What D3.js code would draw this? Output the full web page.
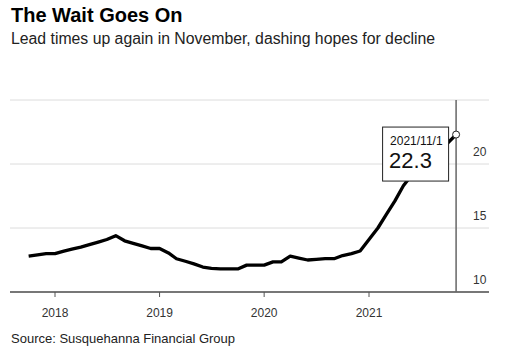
<!DOCTYPE html>
<html>
<head>
<meta charset="utf-8">
<script src="https://cdn.jsdelivr.net/npm/d3@7"></script>
<style>
  body { margin: 0; background: #fff; }
  svg { display: block; font-family: 'Liberation Sans', Arial, Helvetica, sans-serif; }
</style>
</head>
<body>
<div id="chart"></div>
<script>
// data (monthly lead times, weeks)
const months = [
  '2017-10', '2017-11', '2017-12',
  '2018-01', '2018-02', '2018-03', '2018-04', '2018-05', '2018-06', '2018-07', '2018-08', '2018-09', '2018-10', '2018-11', '2018-12',
  '2019-01', '2019-02', '2019-03', '2019-04', '2019-05', '2019-06', '2019-07', '2019-08', '2019-09', '2019-10', '2019-11', '2019-12',
  '2020-01', '2020-02', '2020-03', '2020-04', '2020-05', '2020-06', '2020-07', '2020-08', '2020-09', '2020-10', '2020-11', '2020-12',
  '2021-01', '2021-02', '2021-03', '2021-04', '2021-05', '2021-06', '2021-07', '2021-08', '2021-09', '2021-10', '2021-11',
]
const leadTimes = [
  12.8, 12.9, 13.0,
  13.0, 13.2, 13.35, 13.5, 13.7, 13.9, 14.1, 14.4, 14.0, 13.8, 13.6, 13.4,
  13.4, 13.05, 12.6, 12.4, 12.2, 11.95, 11.85, 11.8, 11.8, 11.8, 12.1, 12.1,
  12.1, 12.35, 12.35, 12.8, 12.65, 12.5, 12.55, 12.6, 12.6, 12.85, 13.0, 13.2,
  14.1, 15.0, 16.0, 17.1, 18.3, 19.2, 20.0, 20.6, 21.1, 21.6, 22.3,
]
const yearTicks = ['2018', '2019', '2020', '2021']
const valueTicks = [10, 15, 20]
const gridValues = [15, 20, 25]

const parseMonth = d3.timeParse('%Y-%m')
const data = months.map((m, i) => ({ date: parseMonth(m), value: leadTimes[i] }))
const last = data[data.length - 1]

// size
const W = 505
const H = 351
const plotLeft = 10
const plotRight = 489

// scale
const x = d3
  .scaleTime()
  .domain([new Date(2018, 0, 1), new Date(2021, 0, 1)])
  .range([55, 369])
const y = d3.scaleLinear().domain([10, 25]).range([292, 100])

const svg = d3
  .select('#chart')
  .append('svg')
  .attr('width', W)
  .attr('height', H)

// title + subtitle
svg
  .append('text')
  .attr('x', 11)
  .attr('y', 22)
  .attr('font-size', '20px')
  .attr('font-weight', 'bold')
  .attr('fill', '#000')
  .text('The Wait Goes On')

svg
  .append('text')
  .attr('x', 11)
  .attr('y', 44)
  .attr('font-size', '15.8px')
  .attr('fill', '#222')
  .text('Lead times up again in November, dashing hopes for decline')

// gridlines
svg
  .selectAll('line.grid')
  .data(gridValues)
  .join('line')
  .attr('class', 'grid')
  .attr('x1', plotLeft)
  .attr('x2', plotRight)
  .attr('y1', d => y(d))
  .attr('y2', d => y(d))
  .attr('stroke', '#dcdcdc')
  .attr('stroke-width', 1)

// y labels (sit above their gridline)
svg
  .selectAll('text.ylab')
  .data(valueTicks)
  .join('text')
  .attr('class', 'ylab')
  .attr('x', 473)
  .attr('y', d => y(d) - 8)
  .attr('font-size', '12px')
  .attr('fill', '#333')
  .text(d => d)

// x-axis
svg
  .append('line')
  .attr('x1', plotLeft)
  .attr('x2', plotRight)
  .attr('y1', y(10))
  .attr('y2', y(10))
  .attr('stroke', '#777')
  .attr('stroke-width', 2)

const yearDates = yearTicks.map(d => d3.timeParse('%Y')(d))
svg
  .selectAll('line.tick')
  .data(yearDates)
  .join('line')
  .attr('class', 'tick')
  .attr('x1', d => x(d))
  .attr('x2', d => x(d))
  .attr('y1', y(10))
  .attr('y2', y(10) + 5)
  .attr('stroke', '#555')
  .attr('stroke-width', 1)

svg
  .selectAll('text.xlab')
  .data(yearDates)
  .join('text')
  .attr('class', 'xlab')
  .attr('x', d => x(d))
  .attr('y', 317)
  .attr('text-anchor', 'middle')
  .attr('font-size', '12px')
  .attr('fill', '#333')
  .text(d3.timeFormat('%Y'))

// vertical marker at latest value
svg
  .append('line')
  .attr('x1', x(last.date))
  .attr('x2', x(last.date))
  .attr('y1', y(25))
  .attr('y2', y(10))
  .attr('stroke', '#666')
  .attr('stroke-width', 1.5)

// line
const line = d3
  .line()
  .x(d => x(d.date))
  .y(d => y(d.value))

svg
  .append('path')
  .datum(data)
  .attr('d', line)
  .attr('fill', 'none')
  .attr('stroke', '#000')
  .attr('stroke-width', 3.3)
  .attr('stroke-linejoin', 'round')

// tooltip box
const px = x(last.date)
const py = y(last.value)
const box = svg.append('g').attr('transform', `translate(${px - 74}, ${py - 8})`)
box
  .append('rect')
  .attr('x', 0.5)
  .attr('y', 0.5)
  .attr('width', 66)
  .attr('height', 54)
  .attr('fill', '#fff')
  .attr('stroke', '#222')
  .attr('stroke-width', 1)
box
  .append('text')
  .attr('x', 8)
  .attr('y', 18)
  .attr('font-size', '12px')
  .attr('fill', '#111')
  .text(d3.timeFormat('%Y/%-m/%-d')(last.date))
box
  .append('text')
  .attr('x', 7)
  .attr('y', 41)
  .attr('font-size', '22px')
  .attr('fill', '#111')
  .text(last.value)

svg
  .append('circle')
  .attr('cx', px)
  .attr('cy', py)
  .attr('r', 3.5)
  .attr('fill', '#fff')
  .attr('stroke', '#222')
  .attr('stroke-width', 1)

// source
svg
  .append('text')
  .attr('x', 11)
  .attr('y', 343)
  .attr('font-size', '13px')
  .attr('fill', '#222')
  .text('Source: Susquehanna Financial Group')
</script>
</body>
</html>
